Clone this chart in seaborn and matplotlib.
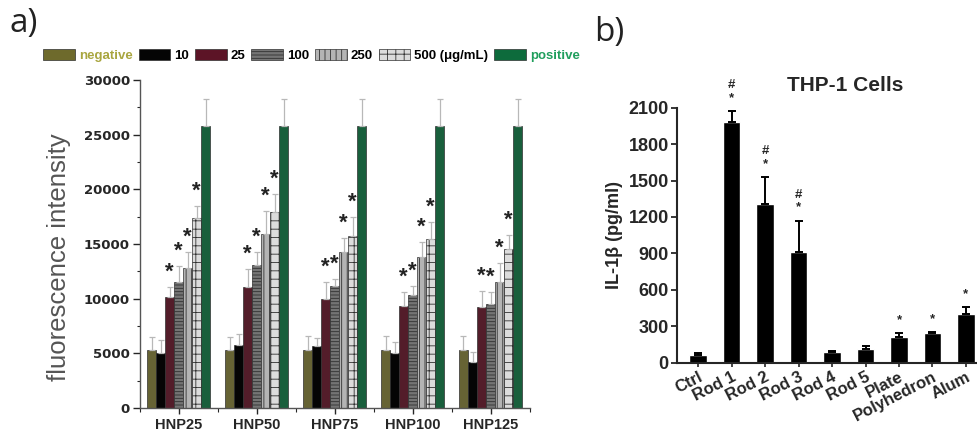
import numpy as np
import pandas as pd
import matplotlib
matplotlib.use("Agg")
import matplotlib.pyplot as plt
from matplotlib.patches import Patch
from matplotlib.ticker import MultipleLocator
import seaborn as sns

# ---- panel a data ----
groups = ["HNP25", "HNP50", "HNP75", "HNP100", "HNP125"]
doses = ["negative", "10", "25", "100", "250", "500", "positive"]
legend_labels = ["negative", "10", "25", "100", "250", "500 (\u03bcg/mL)", "positive"]

fluor_means = {
    "negative": [5300, 5300, 5300, 5300, 5300],
    "10":       [5000, 5750, 5700, 5000, 4200],
    "25":       [10200, 11100, 9950, 9350, 9250],
    "100":      [11500, 13100, 11150, 10300, 9550],
    "250":      [12800, 15950, 14300, 13850, 11550],
    "500":      [17350, 17900, 15700, 15450, 14550],
    "positive": [25800, 25800, 25800, 25800, 25800],
}
fluor_err = {
    "negative": [1200, 1200, 1250, 1300, 1300],
    "10":       [1200, 1000, 700, 1050, 950],
    "25":       [850, 1600, 1550, 1250, 1450],
    "100":      [1500, 1150, 650, 900, 1050],
    "250":      [1450, 2050, 1300, 1350, 1700],
    "500":      [1100, 1650, 1800, 1550, 1300],
    "positive": [2500, 2500, 2500, 2500, 2500],
}
starred = ["25", "100", "250", "500"]

bar_colors = ["#6e6a2c", "#050505", "#5c1426", "#747474", "#b4b4b4", "#dcdcdc", "#0d6b3c"]
hatches = ["", "", "", "-----", "|||", "++", ""]
legend_text_colors = ["#a9a640", "black", "black", "black", "black", "black", "#1f9e5c"]

# ---- panel b data ----
samples = ["Ctrl", "Rod 1", "Rod 2", "Rod 3", "Rod 4", "Rod 5", "Plate", "Polyhedron", "Alum"]
il1b = [66, 1980, 1310, 915, 88, 116, 212, 248, 397]
il1b_err = [17, 95, 220, 255, 5, 18, 33, 6, 62]
il1b_marks = ["", "#\n*", "#\n*", "#\n*", "", "", "*", "*", "*"]

sns.set_theme(style="ticks")
plt.rcParams["font.family"] = ["Liberation Sans", "DejaVu Sans"]
plt.rcParams["hatch.linewidth"] = 0.6

fig = plt.figure(figsize=(9.77, 4.45), dpi=100)
ax_a = fig.add_axes([0.143, 0.083, 0.399, 0.737])
ax_b = fig.add_axes([0.693, 0.185, 0.307, 0.573])

# ---------------- panel a ----------------
rows = []
for d in doses:
    for g, v in zip(groups, fluor_means[d]):
        rows.append({"group": g, "dose": d, "value": v})
df_a = pd.DataFrame(rows)

sns.barplot(data=df_a, x="group", y="value", hue="dose", hue_order=doses,
            palette=bar_colors, width=0.81, gap=0, errorbar=None,
            edgecolor="#303030", linewidth=0.5, legend=False, ax=ax_a)

for i, d in enumerate(doses):
    cont = ax_a.containers[i]
    xs = [b.get_x() + b.get_width() / 2 for b in cont]
    tops = [b.get_height() for b in cont]
    for b in cont:
        b.set_hatch(hatches[i])
    ax_a.errorbar(xs, tops, yerr=[np.zeros(len(tops)), fluor_err[d]],
                  fmt="none", ecolor="#b8b8b8", elinewidth=0.9, capsize=2,
                  capthick=0.9, zorder=1)
    if d in starred:
        for x, t, e in zip(xs, tops, fluor_err[d]):
            ax_a.annotate("*", xy=(x, t + e), xytext=(0, 3), textcoords="offset points",
                          ha="center", va="bottom", fontsize=16, fontweight="bold",
                          color="#222222")

ax_a.set_ylim(0, 30000)
ax_a.set_xlim(-0.5, 4.5)
ax_a.yaxis.set_major_locator(MultipleLocator(5000))
ax_a.yaxis.set_minor_locator(MultipleLocator(2500))
ax_a.set_xticks(np.arange(-0.5, 5, 1.0), minor=True)
ax_a.tick_params(axis="y", which="major", length=5, width=1, labelsize=9.5, pad=2)
ax_a.tick_params(axis="y", which="minor", length=2.5, width=0.8)
ax_a.tick_params(axis="x", which="major", length=4, width=1, labelsize=10.5)
ax_a.tick_params(axis="x", which="minor", length=3, width=0.8)
for lab in ax_a.get_yticklabels():
    lab.set_fontweight("bold")
    lab.set_family(["DejaVu Sans"])
for lab in ax_a.get_xticklabels():
    lab.set_fontweight("bold")
ax_a.set_xlabel("")
ax_a.set_ylabel("fluorescence intensity", fontsize=18.5, color="#555555")
ax_a.yaxis.set_label_coords(-0.175, 0.46)
for s in ["left", "bottom"]:
    ax_a.spines[s].set_color("#555555")
    ax_a.spines[s].set_linewidth(1.0)
sns.despine(ax=ax_a)

handles = [Patch(facecolor=c, edgecolor="#303030", linewidth=0.5, hatch=h)
           for c, h in zip(bar_colors, hatches)]
leg = fig.legend(handles, legend_labels, loc="center", bbox_to_anchor=(0.319, 0.876),
                 ncol=7, frameon=False, fontsize=9.5, handlelength=2.4, handleheight=0.95,
                 handletextpad=0.3, columnspacing=0.45, borderpad=0)
for t, c in zip(leg.get_texts(), legend_text_colors):
    t.set_color(c)
    t.set_fontweight("bold")

# ---------------- panel b ----------------
df_b = pd.DataFrame({"sample": samples, "il1b": il1b})
sns.barplot(data=df_b, x="sample", y="il1b", color="black", width=0.52,
            errorbar=None, saturation=1, ax=ax_b)
bars_b = ax_b.containers[0]
xb = [b.get_x() + b.get_width() / 2 for b in bars_b]
tb = [b.get_height() for b in bars_b]
ax_b.errorbar(xb, tb, yerr=[np.zeros(len(tb)), il1b_err], fmt="none", ecolor="black",
              elinewidth=1.4, capsize=3, capthick=1.4)
for x, t, e, m in zip(xb, tb, il1b_err, il1b_marks):
    if m:
        ax_b.annotate(m, xy=(x, t + e), xytext=(0, 5), textcoords="offset points",
                      ha="center", va="bottom", fontsize=9.5, fontweight="bold",
                      linespacing=1.1, annotation_clip=False)

ax_b.set_ylim(0, 2100)
ax_b.set_xlim(-0.63, 8.33)
ax_b.yaxis.set_major_locator(MultipleLocator(300))
ax_b.tick_params(axis="y", length=4, width=1.3, labelsize=13, pad=2)
ax_b.tick_params(axis="x", length=3, width=1.2, labelsize=12, pad=2)
ax_b.set_xticks(range(len(samples)))
ax_b.set_xticklabels(samples, rotation=27, ha="right", rotation_mode="anchor")
for lab in ax_b.get_yticklabels() + ax_b.get_xticklabels():
    lab.set_fontweight("bold")
ax_b.set_xlabel("")
ax_b.set_ylabel("IL-1\u03b2 (pg/ml)", fontsize=13, fontweight="bold", labelpad=4)
ax_b.set_title("THP-1 Cells", fontsize=15, fontweight="bold", pad=12, x=0.56)
for s in ["left", "bottom"]:
    ax_b.spines[s].set_linewidth(1.5)
sns.despine(ax=ax_b)

fig.text(0.010, 0.985, "a)", fontsize=24, va="top", ha="left", color="#222222",
         family=["Open Sans", "DejaVu Sans"])
fig.text(0.608, 0.965, "b)", fontsize=24, va="top", ha="left", color="#222222",
         family=["Open Sans", "DejaVu Sans"])

fig.savefig("out.png", dpi=100)
